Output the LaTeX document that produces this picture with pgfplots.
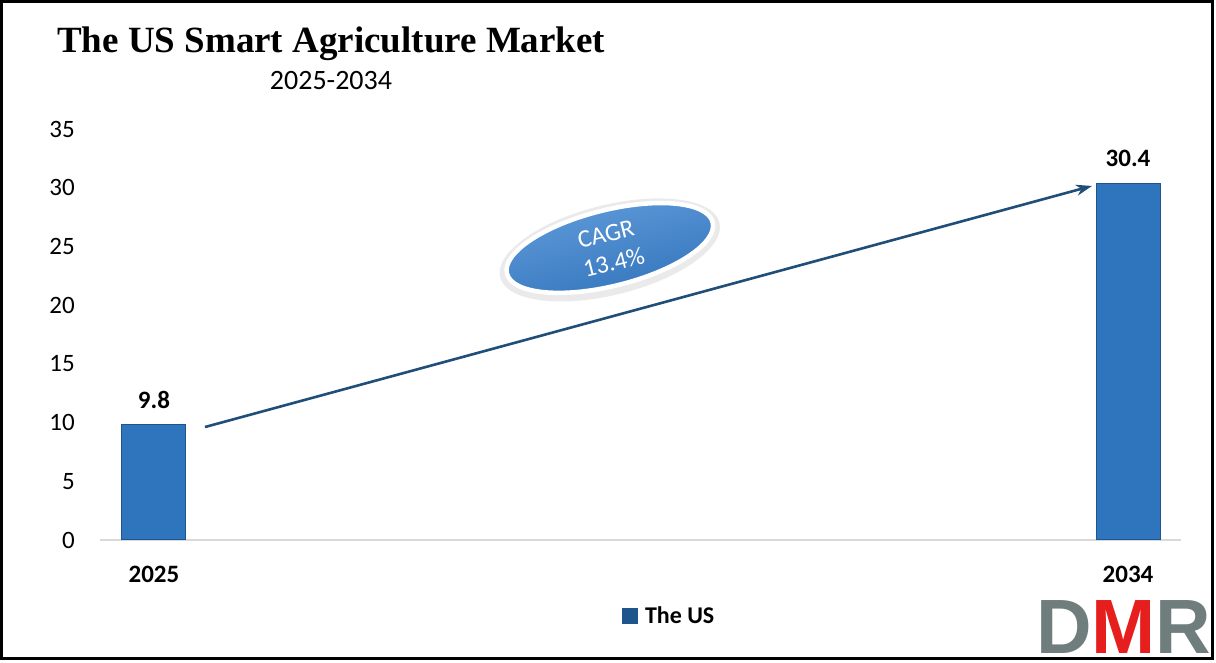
\documentclass[border=0pt]{standalone}
\usepackage{pgfplots}
\pgfplotsset{compat=1.18}
\usepackage{fontspec}
\setmainfont{Carlito}
\newfontfamily\titlefont{Liberation Serif}
\newfontfamily\logofont{Liberation Sans}
\usetikzlibrary{shapes.geometric,arrows.meta}
\definecolor{barblue}{RGB}{46,117,190}
\definecolor{baredge}{RGB}{30,85,140}
\definecolor{arrowblue}{RGB}{31,78,121}
\definecolor{elltop}{RGB}{96,156,220}
\definecolor{ellbot}{RGB}{50,115,185}
\definecolor{logogrey}{RGB}{112,125,125}
\definecolor{logored}{RGB}{230,30,30}
\definecolor{axgrey}{RGB}{217,217,217}
\definecolor{glowgrey}{RGB}{215,215,215}
\begin{document}
\begin{tikzpicture}[x=1pt,y=1pt]
\useasboundingbox (0,0) rectangle (1216,663);
\fill[white] (0,0) rectangle (1216,663);
\node[anchor=base west,inner sep=0pt,font=\titlefont\bfseries\fontsize{37}{40}\selectfont] at (57,610) {The US Smart Agriculture Market};
\node[anchor=center,inner sep=0pt,font=\fontsize{28}{30}\selectfont] at (331,582) {2025-2034};
\begin{axis}[
  at={(100pt,123pt)}, anchor=south west,
  scale only axis, width=1081pt, height=411pt,
  xmin=-0.0554, xmax=1.0544, ymin=0, ymax=35,
  ytick={0,5,...,35},
  xtick={0,1}, xticklabels={2025,2034},
  axis x line*=bottom, axis y line*=left,
  y axis line style={draw=none},
  x axis line style={draw=axgrey, line width=1.5pt},
  tick style={draw=none},
  /pgf/number format/assume math mode=true,
  yticklabel style={anchor=east, inner sep=0pt, xshift=-25pt, font=\fontsize{25}{28}\selectfont},
  xticklabel style={anchor=center, inner sep=0pt, yshift=-34pt, font=\bfseries\fontsize{25}{28}\selectfont},
  legend style={at={(0.5265,-0.185)}, anchor=center, draw=none, fill=none, font=\bfseries\fontsize{24}{27}\selectfont},
  legend image code/.code={\fill[barblue] (0pt,-7pt) rectangle (15pt,8pt); \draw[baredge,line width=0.8pt] (0pt,-7pt) rectangle (15pt,8pt);},
  clip=false,
]
\addplot[ybar, bar width=64pt, fill=barblue, draw=baredge, line width=1pt,
  nodes near coords, point meta=explicit symbolic,
  every node near coord/.append style={anchor=center, yshift=25pt, font=\bfseries\fontsize{25}{28}\selectfont, text=black}]
  coordinates {(0,9.8)[9.8] (1,30.4)[30.4]};
\addlegendentry{\hspace{5pt}The US}
\draw[arrowblue, line width=2.6pt, -{Stealth[length=16pt,width=11pt]}] (axis cs:0.0524,9.62) -- (axis cs:0.963,30.15);
\node[ellipse, fill=glowgrey, minimum width=226pt, minimum height=90pt, rotate=14, opacity=0.5] at (axis cs:0.468,24.7) {};
\node[ellipse, draw=white, line width=4.5pt, top color=elltop, bottom color=ellbot, shading angle=14, minimum width=212pt, minimum height=76pt, rotate=14] at (axis cs:0.468,24.87) {};
\node[rotate=14, text=white, inner sep=0pt, font=\fontsize{25}{29}\selectfont] at (axis cs:0.464,26.05) {CAGR};
\node[rotate=14, text=white, inner sep=0pt, font=\fontsize{25}{29}\selectfont] at (axis cs:0.472,23.65) {13.4\%};
\end{axis}
\node[anchor=base west,inner sep=0pt,font=\logofont\bfseries\fontsize{77}{77}\selectfont] at (1036,9) {\textcolor{logogrey}{D}\textcolor{logored}{M}\textcolor{logogrey}{R}};
\draw[black, line width=3pt] (1.5,4) rectangle (1212.5,661.5);
\end{tikzpicture}
\end{document}
